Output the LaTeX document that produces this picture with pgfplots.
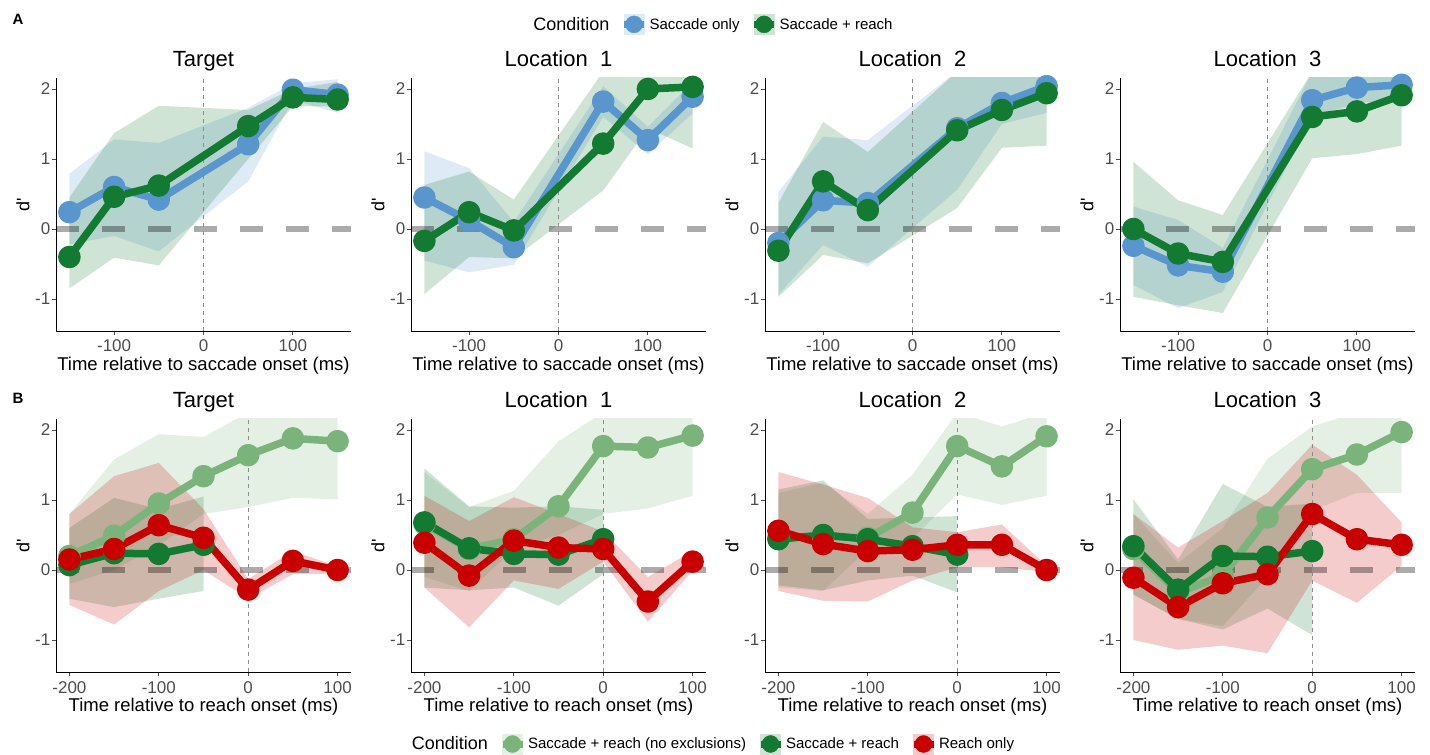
\documentclass[border=0pt]{standalone}
\usepackage{fontspec}
\setmainfont{Liberation Sans}
\usepackage{pgfplots}
\pgfplotsset{compat=1.18}

\definecolor{cblue}{RGB}{88,150,205}
\definecolor{cgreen}{RGB}{19,122,50}
\definecolor{clgreen}{RGB}{122,180,122}
\definecolor{cred}{RGB}{200,0,0}
\definecolor{ctick}{RGB}{77,77,77}

% ribbon: upper bound left->right, then lower bound right->left
\newcommand{\rib}[2]{%
  \addplot[fill=#1, fill opacity=0.2, draw=none, forget plot] coordinates {#2};
}
\newcommand{\lin}[2]{%
  \addplot[#1, line width=7.5pt, line join=round, mark=*, mark size=7.5pt,
    mark options={solid, fill=#1, draw=none}, forget plot] coordinates {#2};
}
\newcommand{\refl}[2]{% xmin xmax
  \addplot[forget plot, black, opacity=0.33, line width=6pt, dash pattern=on 23pt off 23pt] coordinates {(#1,0) (#2,0)};
  \addplot[forget plot, black!45, line width=0.8pt, dash pattern=on 4pt off 4pt] coordinates {(0,-1.457) (0,2.157)};
}

\pgfplotsset{
  panel/.style={
    scale only axis, width=295pt, height=253pt,
    axis lines*=left,
    axis line style={black, line width=0.9pt},
    tick align=outside, major tick length=4pt,
    tick style={ctick, line width=0.9pt},
    ymin=-1.457, ymax=2.157,
    ytick={-1,0,1,2}, yticklabels={-1,0,1,2},
    ticklabel style={font=\fontsize{17}{17}\selectfont, text=ctick},
    xticklabel style={anchor=base, yshift=-17pt},
    yticklabel style={anchor=east, inner sep=0pt, xshift=-1.5pt},
    xlabel style={at={(0.5,-0.158)}, anchor=base, font=\fontsize{18.5}{18.5}\selectfont},
    ylabel style={at={(-0.112,0.5)}, anchor=center, font=\fontsize{18}{18}\selectfont},
    ylabel={d\textquotesingle},
    title style={at={(0.5,1)}, anchor=base, yshift=5pt, font=\fontsize{22}{22}\selectfont},
  },
  toprow/.style={panel, xmin=-165, xmax=165, xtick={-100,0,100}, xticklabels={-100,0,100},
    xlabel={Time relative to saccade onset (ms)}},
  botrow/.style={panel, xmin=-215, xmax=115, xtick={-200,-100,0,100}, xticklabels={-200,-100,0,100},
    xlabel={Time relative to reach onset (ms)}},
  keyimg/.style={legend image code/.code={
      \fill[#1!20] (0pt,-10pt) rectangle (20pt,10pt);
      \draw[#1, line width=7pt] (0pt,0pt) -- (20pt,0pt);
      \fill[#1] (10pt,0pt) circle (8.5pt);}},
  noimg/.style={legend image code/.code={\path[draw=none, fill=none] (0pt,-1pt) rectangle (0.1pt,1pt);}},
  legsty/.style={legend style={at={#1}, anchor=center, draw=none, fill=none,
      legend columns=-1, font=\fontsize{15}{15}\selectfont, inner sep=0pt,
      /tikz/every even column/.append style={column sep=9pt}}},
}

\begin{document}
\begin{tikzpicture}
\path (0pt,0pt) rectangle (1430pt,753pt);
\node[font=\bfseries\fontsize{15}{15}\selectfont] at (18pt,734pt) {A};
\node[font=\bfseries\fontsize{15}{15}\selectfont] at (18pt,355pt) {B};

% ===== Row A: relative to saccade onset =====
\begin{axis}[toprow, at={(56pt,422pt)}, anchor=south west, legsty={(2.227,1.212)}, title={Target}]
\rib{cblue}{(-150,0.79)(-100,1.28)(-50,1.23)(50,1.73)(100,2.08)(150,2.14)(150,1.66)(100,1.84)(50,0.68)(-50,-0.32)(-100,-0.10)(-150,-0.22)}
\rib{cgreen}{(-150,0.45)(-100,1.37)(-50,1.76)(50,1.70)(100,2.00)(150,2.10)(150,1.75)(100,1.75)(50,1.00)(-50,-0.52)(-100,-0.41)(-150,-0.85)}
\refl{-165}{165}
\lin{cblue}{(-150,0.24)(-100,0.60)(-50,0.42)(50,1.21)(100,1.99)(150,1.92)}
\lin{cgreen}{(-150,-0.40)(-100,0.46)(-50,0.62)(50,1.47)(100,1.88)(150,1.85)}
\addlegendimage{noimg}\addlegendentry{\fontsize{18}{18}\selectfont Condition}
\addlegendimage{keyimg=cblue}\addlegendentry{Saccade only}
\addlegendimage{keyimg=cgreen}\addlegendentry{Saccade + reach}
\end{axis}

\begin{axis}[toprow, at={(411pt,422pt)}, anchor=south west, title={Location~~1}]
\rib{cblue}{(-150,1.11)(-100,0.87)(-50,0.10)(50,2.04)(100,1.46)(150,2.10)(150,1.65)(100,1.07)(50,1.60)(-50,-0.51)(-100,-0.62)(-150,-0.45)}
\rib{cgreen}{(-150,0.63)(-100,0.82)(-50,0.42)(50,2.25)(100,2.25)(150,2.25)(150,1.15)(100,1.44)(50,0.55)(-50,-0.42)(-100,-0.40)(-150,-0.93)}
\refl{-165}{165}
\lin{cblue}{(-150,0.45)(-100,0.12)(-50,-0.26)(50,1.82)(100,1.27)(150,1.89)}
\lin{cgreen}{(-150,-0.17)(-100,0.24)(-50,-0.02)(50,1.22)(100,2.00)(150,2.03)}
\end{axis}

\begin{axis}[toprow, at={(765pt,422pt)}, anchor=south west, title={Location~~2}]
\rib{cblue}{(-150,0.53)(-100,1.32)(-50,1.27)(50,2.25)(100,2.25)(150,2.25)(150,1.66)(100,1.50)(50,0.56)(-50,-0.54)(-100,-0.23)(-150,-0.94)}
\rib{cgreen}{(-150,0.37)(-100,1.53)(-50,1.10)(50,2.25)(100,2.25)(150,2.25)(150,1.19)(100,1.16)(50,0.30)(-50,-0.49)(-100,-0.37)(-150,-0.97)}
\refl{-165}{165}
\lin{cblue}{(-150,-0.20)(-100,0.41)(-50,0.37)(50,1.44)(100,1.80)(150,2.04)}
\lin{cgreen}{(-150,-0.31)(-100,0.68)(-50,0.27)(50,1.41)(100,1.70)(150,1.94)}
\end{axis}

\begin{axis}[toprow, at={(1120pt,422pt)}, anchor=south west, title={Location~~3}]
\rib{cblue}{(-150,0.32)(-100,0.13)(-50,-0.27)(50,2.25)(100,2.25)(150,2.25)(150,1.85)(100,1.80)(50,1.60)(-50,-0.90)(-100,-1.13)(-150,-0.80)}
\rib{cgreen}{(-150,0.96)(-100,0.41)(-50,0.20)(50,2.25)(100,2.25)(150,2.25)(150,1.19)(100,1.07)(50,1.01)(-50,-1.20)(-100,-1.09)(-150,-0.97)}
\refl{-165}{165}
\lin{cblue}{(-150,-0.24)(-100,-0.52)(-50,-0.61)(50,1.84)(100,2.02)(150,2.06)}
\lin{cgreen}{(-150,0.00)(-100,-0.35)(-50,-0.47)(50,1.60)(100,1.68)(150,1.91)}
\end{axis}

% ===== Row B: relative to reach onset =====
\begin{axis}[botrow, at={(56pt,81pt)}, anchor=south west, legsty={(2.227,-0.2846)}, title={Target}]
\rib{clgreen}{(-200,0.80)(-150,1.58)(-100,1.94)(-50,1.90)(0,2.25)(50,2.25)(100,2.25)(100,1.01)(50,1.03)(0,0.90)(-50,0.80)(-100,0.35)(-150,0.00)(-200,-0.20)}
\rib{cgreen}{(-200,0.60)(-150,1.03)(-100,0.87)(-50,1.05)(-50,-0.30)(-100,-0.41)(-150,-0.53)(-200,-0.41)}
\rib{cred}{(-200,0.80)(-150,1.34)(-100,1.53)(-50,0.87)(0,-0.13)(50,0.27)(100,0.05)(100,-0.05)(50,-0.06)(0,-0.41)(-50,0.00)(-100,-0.30)(-150,-0.78)(-200,-0.50)}
\refl{-215}{115}
\lin{clgreen}{(-200,0.20)(-150,0.49)(-100,0.95)(-50,1.34)(0,1.64)(50,1.88)(100,1.84)}
\lin{cgreen}{(-200,0.07)(-150,0.24)(-100,0.23)(-50,0.36)}
\lin{cred}{(-200,0.15)(-150,0.30)(-100,0.64)(-50,0.46)(0,-0.28)(50,0.13)(100,0.00)}
\addlegendimage{noimg}\addlegendentry{\fontsize{18}{18}\selectfont Condition}
\addlegendimage{keyimg=clgreen}\addlegendentry{Saccade + reach (no exclusions)}
\addlegendimage{keyimg=cgreen}\addlegendentry{Saccade + reach}
\addlegendimage{keyimg=cred}\addlegendentry{Reach only}
\end{axis}

\begin{axis}[botrow, at={(411pt,81pt)}, anchor=south west, title={Location~~1}]
\rib{clgreen}{(-200,1.40)(-150,0.90)(-100,1.13)(-50,1.84)(0,2.25)(50,2.25)(100,2.25)(100,1.06)(50,0.88)(0,0.80)(-50,0.50)(-100,0.30)(-150,-0.30)(-200,-0.10)}
\rib{cgreen}{(-200,1.45)(-150,0.91)(-100,0.89)(-50,0.91)(0,0.86)(0,-0.06)(-50,-0.51)(-100,-0.25)(-150,-0.29)(-200,-0.25)}
\rib{cred}{(-200,1.06)(-150,0.70)(-100,1.04)(-50,0.80)(0,0.55)(50,-0.10)(100,0.27)(100,-0.01)(50,-0.74)(0,0.12)(-50,-0.27)(-100,-0.15)(-150,-0.82)(-200,-0.25)}
\refl{-215}{115}
\lin{clgreen}{(-200,0.66)(-150,0.30)(-100,0.44)(-50,0.91)(0,1.77)(50,1.75)(100,1.92)}
\lin{cgreen}{(-200,0.68)(-150,0.31)(-100,0.23)(-50,0.22)(0,0.44)}
\lin{cred}{(-200,0.39)(-150,-0.08)(-100,0.42)(-50,0.32)(0,0.30)(50,-0.45)(100,0.12)}
\end{axis}

\begin{axis}[botrow, at={(765pt,81pt)}, anchor=south west, title={Location~~2}]
\rib{clgreen}{(-200,1.10)(-150,1.25)(-100,0.80)(-50,1.36)(0,2.25)(50,2.05)(100,2.25)(100,1.06)(50,0.93)(0,1.08)(-50,0.45)(-100,0.30)(-150,-0.30)(-200,-0.25)}
\rib{cgreen}{(-200,1.15)(-150,1.28)(-100,0.73)(-50,0.75)(0,0.77)(0,-0.32)(-50,-0.08)(-100,-0.15)(-150,-0.29)(-200,-0.22)}
\rib{cred}{(-200,1.40)(-150,1.22)(-100,1.03)(-50,0.61)(0,0.54)(50,0.65)(100,0.06)(100,-0.03)(50,0.04)(0,0.04)(-50,-0.15)(-100,-0.45)(-150,-0.44)(-200,-0.30)}
\refl{-215}{115}
\lin{clgreen}{(-200,0.46)(-150,0.48)(-100,0.46)(-50,0.82)(0,1.77)(50,1.48)(100,1.91)}
\lin{cgreen}{(-200,0.44)(-150,0.50)(-100,0.44)(-50,0.34)(0,0.22)}
\lin{cred}{(-200,0.56)(-150,0.37)(-100,0.27)(-50,0.29)(0,0.36)(50,0.36)(100,0.00)}
\end{axis}

\begin{axis}[botrow, at={(1120pt,81pt)}, anchor=south west, title={Location~~3}]
\rib{clgreen}{(-200,0.80)(-150,0.10)(-100,0.60)(-50,1.59)(0,2.05)(50,2.25)(100,2.25)(100,1.10)(50,1.10)(0,0.85)(-50,-0.10)(-100,-0.80)(-150,-0.70)(-200,-0.35)}
\rib{cgreen}{(-200,1.01)(-150,0.15)(-100,1.23)(-50,0.90)(0,0.95)(0,-0.93)(-50,-0.55)(-100,-0.85)(-150,-0.70)(-200,-0.35)}
\rib{cred}{(-200,0.80)(-150,0.32)(-100,0.70)(-50,1.10)(0,1.79)(50,1.36)(100,0.68)(100,0.06)(50,-0.47)(0,-0.15)(-50,-1.19)(-100,-1.08)(-150,-1.14)(-200,-1.00)}
\refl{-215}{115}
\lin{clgreen}{(-200,0.30)(-150,-0.32)(-100,-0.08)(-50,0.75)(0,1.44)(50,1.65)(100,1.97)}
\lin{cgreen}{(-200,0.34)(-150,-0.28)(-100,0.20)(-50,0.19)(0,0.27)}
\lin{cred}{(-200,-0.11)(-150,-0.53)(-100,-0.19)(-50,-0.06)(0,0.80)(50,0.44)(100,0.36)}
\end{axis}
\end{tikzpicture}
\end{document}
